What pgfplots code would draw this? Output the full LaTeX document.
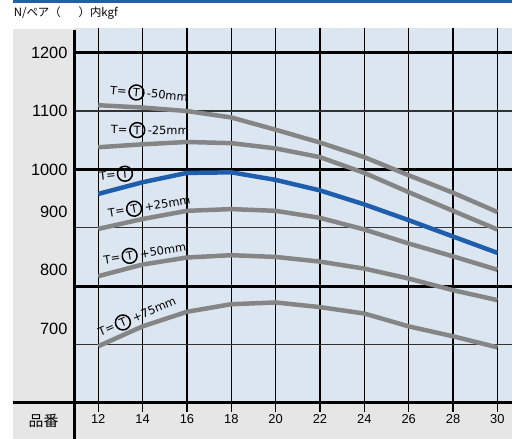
\documentclass[border=0pt]{standalone}
\usepackage{fontspec}
\setmainfont{Liberation Sans}
\newfontfamily\jp{Noto Sans CJK JP}
\newfontfamily\lblfont{DejaVu Sans}
\usepackage{pgfplots}
\pgfplotsset{compat=1.18}

\definecolor{topblue}{HTML}{2060AA}
\definecolor{plotbg}{HTML}{DCE6F1}
\definecolor{framegray}{HTML}{E6E6E6}
\definecolor{curvegray}{HTML}{858585}
\definecolor{curveblue}{HTML}{1F5EAD}

\newsavebox\ctbox
\newcommand{\lbl}[1]{{\lblfont\fontsize{11.5}{11.5}\selectfont T=}\kern1.5bp\usebox\ctbox\kern2.5bp{\lblfont\fontsize{11.5}{11.5}\selectfont #1}}

\begin{document}
\sbox\ctbox{\tikz[baseline=(t.base)]\node[draw,circle,line width=1.5bp,inner sep=0pt,minimum size=15bp](t){\lblfont\fontsize{11.5}{11.5}\selectfont T};}
\begin{tikzpicture}
\path[use as bounding box] (0,0) rectangle (512bp,441bp);
\fill[framegray] (10bp,0bp) rectangle (512bp,412bp);
\fill[topblue] (10bp,438bp) rectangle (512bp,441bp);
\node[anchor=base west, inner sep=0pt] at (11bp,424bp) {\jp\fontsize{11.5}{11.5}\selectfont N/ペア（\hspace{18bp}）内kgf};

\begin{axis}[
  at={(72bp,36bp)}, anchor=south west,
  scale only axis, width=440bp, height=377bp,
  xmin=10.923, xmax=30.66, ymin=600, ymax=1242.6,
  axis background/.style={fill=plotbg},
  axis line style={draw=none},
  tick align=inside, major tick length=0pt, minor tick length=0pt,
  /pgf/number format/assume math mode=true,
  xtick={12,14,...,30},
  xmajorgrids,
  major x grid style={black, line width=1.2bp},
  xticklabel style={font=\fontsize{13}{13}\selectfont, yshift=-8.5bp},
  ytick={1200,1100,1000,928,828,726},
  yticklabels={1200,1100,1000,900,800,700},
  yticklabel style={font=\fontsize{16.5}{16.5}\selectfont, xshift=-3.5bp},
  minor ytick={800,1000,1200},
  yminorgrids,
  minor y grid style={black, line width=3bp},
  extra y ticks={700,900,1100},
  extra y tick labels={},
  extra y tick style={grid=major, major grid style={black!80, line width=1.3bp}},
  every axis plot/.append style={line width=4.5bp, line join=round},
]
% T - 50mm
\addplot[curvegray] coordinates {
  (12,1110) (14,1106) (16,1100) (18,1089) (20,1068)
  (22,1046) (24,1021) (26,990) (28,960) (30,927)
};
% T - 25mm
\addplot[curvegray] coordinates {
  (12,1038) (14,1043) (16,1047) (18,1045) (20,1036)
  (22,1021) (24,994) (26,961) (28,929) (30,897)
};
% T
\addplot[curveblue] coordinates {
  (12,958) (14,978) (16,994) (18,995) (20,982)
  (22,964) (24,940) (26,913) (28,885) (30,857)
};
% T + 25mm
\addplot[curvegray] coordinates {
  (12,898) (14,915) (16,929) (18,932) (20,929)
  (22,917) (24,897) (26,873) (28,851) (30,828)
};
% T + 50mm
\addplot[curvegray] coordinates {
  (12,817) (14,837) (16,849) (18,853) (20,850)
  (22,842) (24,830) (26,813) (28,793) (30,776)
};
% T + 75mm
\addplot[curvegray] coordinates {
  (12,697) (14,731) (16,756) (18,769) (20,772)
  (22,764) (24,753) (26,731) (28,714) (30,695)
};

\node[rotate=-5, inner sep=0pt] at (axis cs:14.29,1130) {\lbl{-50mm}};
\node[rotate=-1, inner sep=0pt] at (axis cs:14.33,1067) {\lbl{-25mm}};
\node[rotate=6, inner sep=0pt, anchor=west] at (axis cs:12.04,988) {{\lblfont\fontsize{11.5}{11.5}\selectfont T=}\kern1bp\usebox\ctbox};
\node[rotate=9.5, inner sep=0pt] at (axis cs:14.3,937) {\lbl{+25mm}};
\node[rotate=9, inner sep=0pt] at (axis cs:14.1,856) {\lbl{+50mm}};
\node[rotate=23, inner sep=0pt] at (axis cs:13.75,748) {\lbl{+75mm}};
\end{axis}

\foreach \k in {0,...,9}
  \draw[black, line width=1.2bp] ({96bp+\k*44.58bp},36bp) -- ++(0,-9bp);
\draw[black, line width=3bp] (72bp,0bp) -- (72bp,411bp);
\draw[black, line width=3bp] (10bp,36bp) -- (512bp,36bp);
\node[inner sep=0pt] at (41bp,18bp) {\jp\fontsize{15}{15}\selectfont 品番};
\end{tikzpicture}
\end{document}
